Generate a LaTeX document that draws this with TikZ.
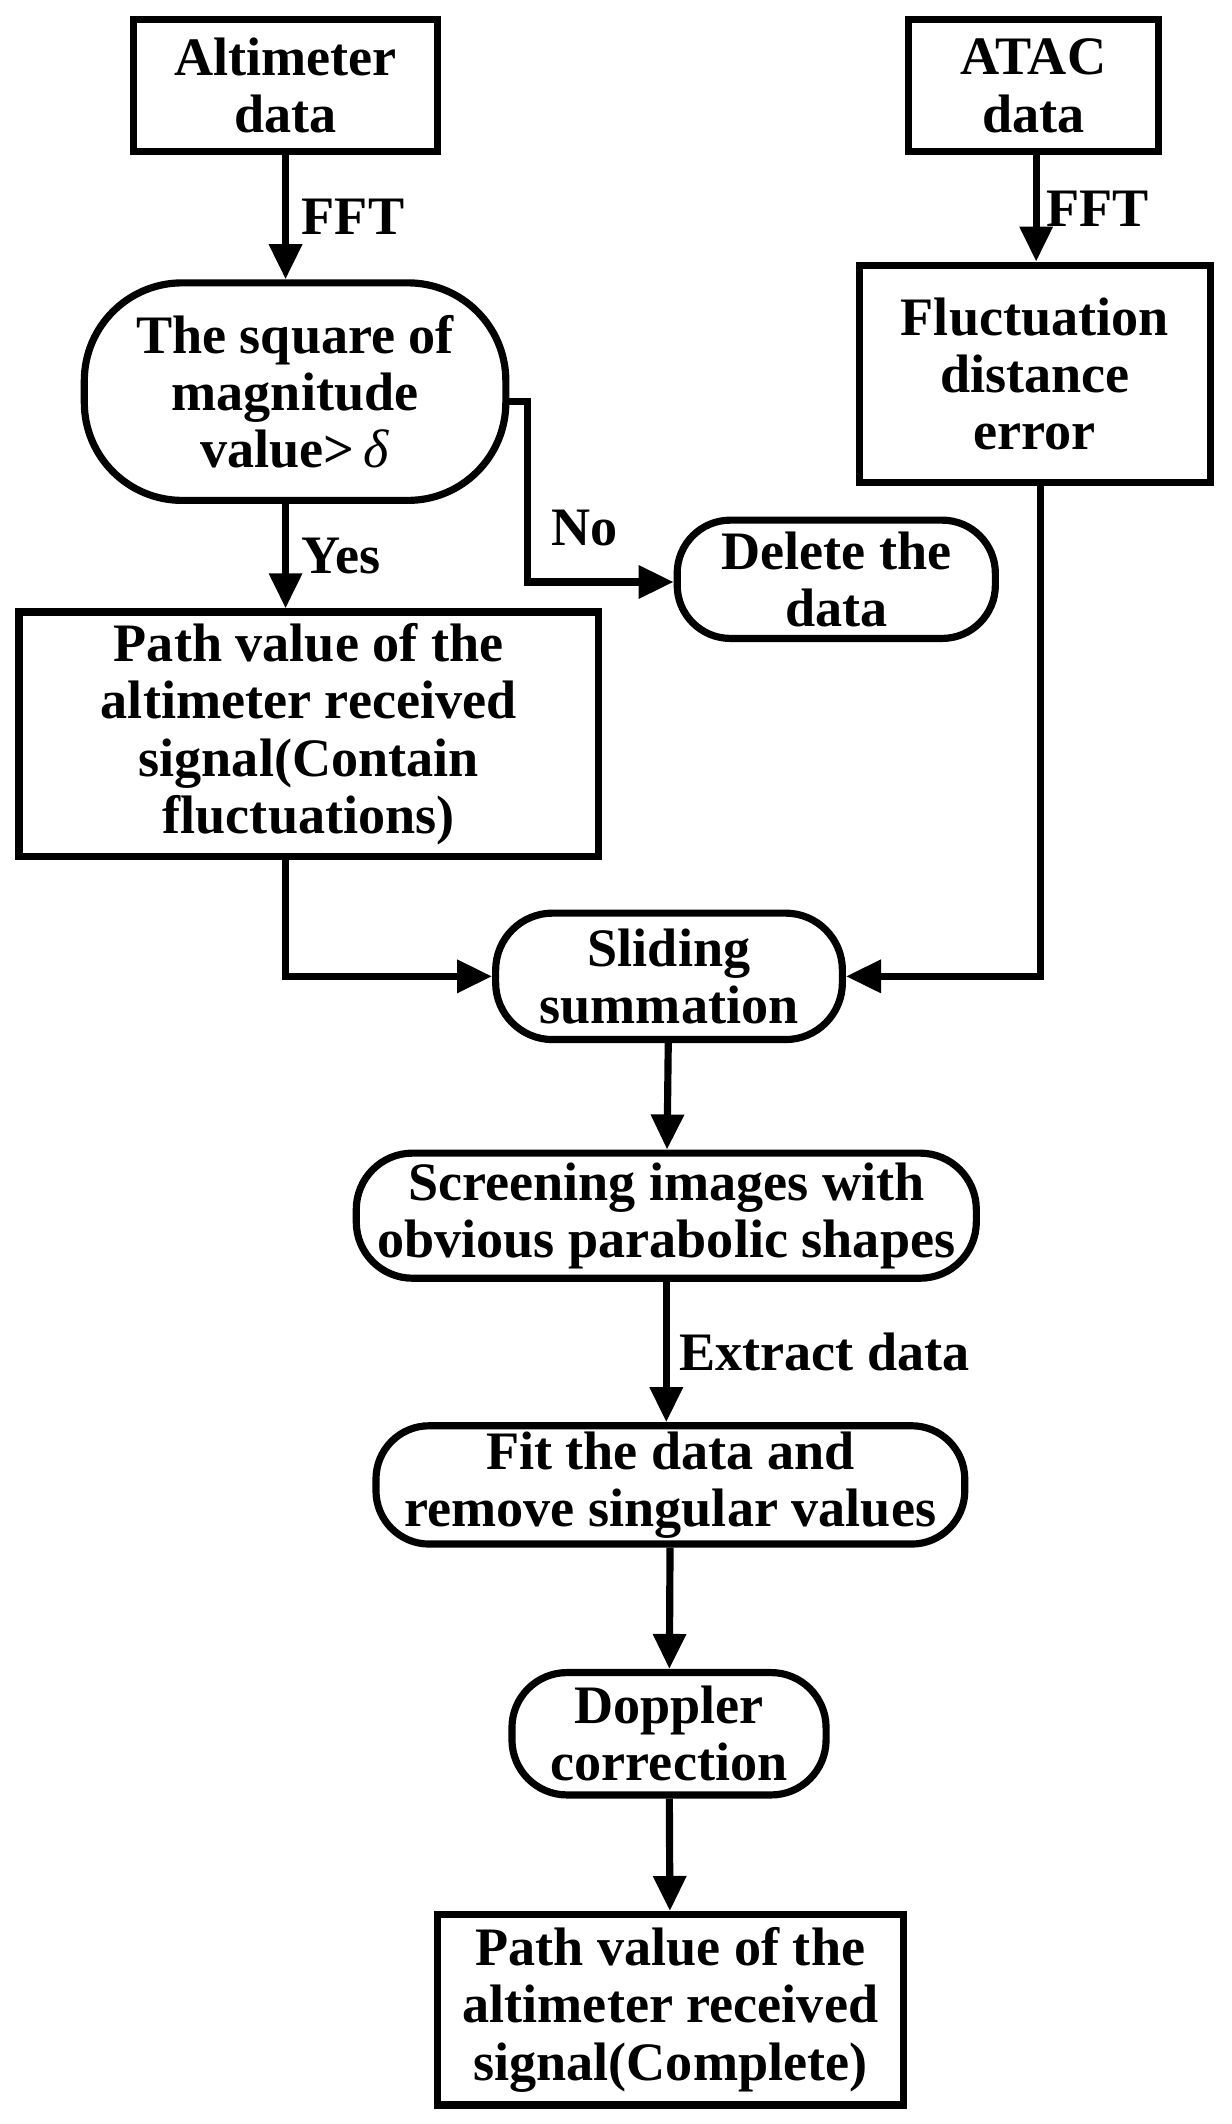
\documentclass[tikz,border=0pt]{standalone}
\usepackage{fontspec}
\setmainfont{Liberation Serif}
\usetikzlibrary{arrows.meta}
\begin{document}
\begin{tikzpicture}[x=0.03cm,y=-0.03cm,
  font=\fontsize{34}{36}\selectfont\bfseries,
  lw/.style={line width=4.5pt},
  box/.style 2 args={draw,lw,inner sep=0pt,align=center,minimum width={#1*0.03cm},minimum height={#2*0.03cm}},
  pill/.style 2 args={box={#1}{#2},rounded corners={0.45*#2*0.03cm}},
  arr/.style={lw,-{Triangle[length=22pt,width=20pt]}},
  ln/.style={lw},
  lab/.style={inner sep=0pt}]
\useasboundingbox (0,0) rectangle (906,1562);
\node[box={224}{97}] (alt) at (210,63) {Altimeter\\data};
\node[box={184}{97}] (atac) at (760,63) {ATAC\\data};
\node[pill={310}{160}] (sq) at (217,288) {The square of\\magnitude\\value>\,\textit{\mdseries δ}};
\node[box={258}{160}] (fl) at (761,275) {Fluctuation\\distance\\error};
\node[pill={234}{87}] (del) at (615,426) {Delete the\\data};
\node[box={426}{180}] (pv) at (227,540) {Path value of the\\altimeter received\\signal(Contain\\fluctuations)};
\node[pill={255}{93}] (sl) at (492,718) {Sliding\\summation};
\node[pill={456}{92}] (sc) at (490,894) {Screening images with\\obvious parabolic shapes};
\node[pill={433}{87}] (fit) at (493,1092) {Fit the data and\\remove singular values};
\node[pill={231}{90}] (dop) at (492,1275) {Doppler\\correction};
\node[box={343}{140}] (fin) at (493,1478) {Path value of the\\altimeter received\\signal(Complete)};
\coordinate (c1) at (388,295);
\coordinate (c2) at (388,428);
\draw[arr] (alt.south -| 210,0) -- (sq.north -| 210,0) node[lab,midway,right=8pt] (fft1) {FFT};
\draw[arr] (atac.south -| 762,0) -- (fl.north -| 762,0) node[lab,midway,right=4pt] (fft2) {FFT};
\draw[arr] (sq.south -| 210,0) -- (pv.north -| 210,0) node[lab,midway,right=8pt] (yes) {Yes};
\draw[arr] (sq.east |- c1) -- (c1) -- (c2) -- (del.west |- c2);
\node[lab] (no) at (430,388) {No};
\draw[arr] (pv.south -| 210,0) |- (sl.west);
\draw[arr] (fl.south -| 765,0) |- (sl.east);
\draw[arr] (sl) -- (sc);
\draw[arr] (sc.south -| 490,0) -- (fit.north -| 490,0) node[lab,midway,right=6pt] (ex) {Extract data};
\draw[arr] (fit) -- (dop);
\draw[arr] (dop) -- (fin);
\end{tikzpicture}
\end{document}
